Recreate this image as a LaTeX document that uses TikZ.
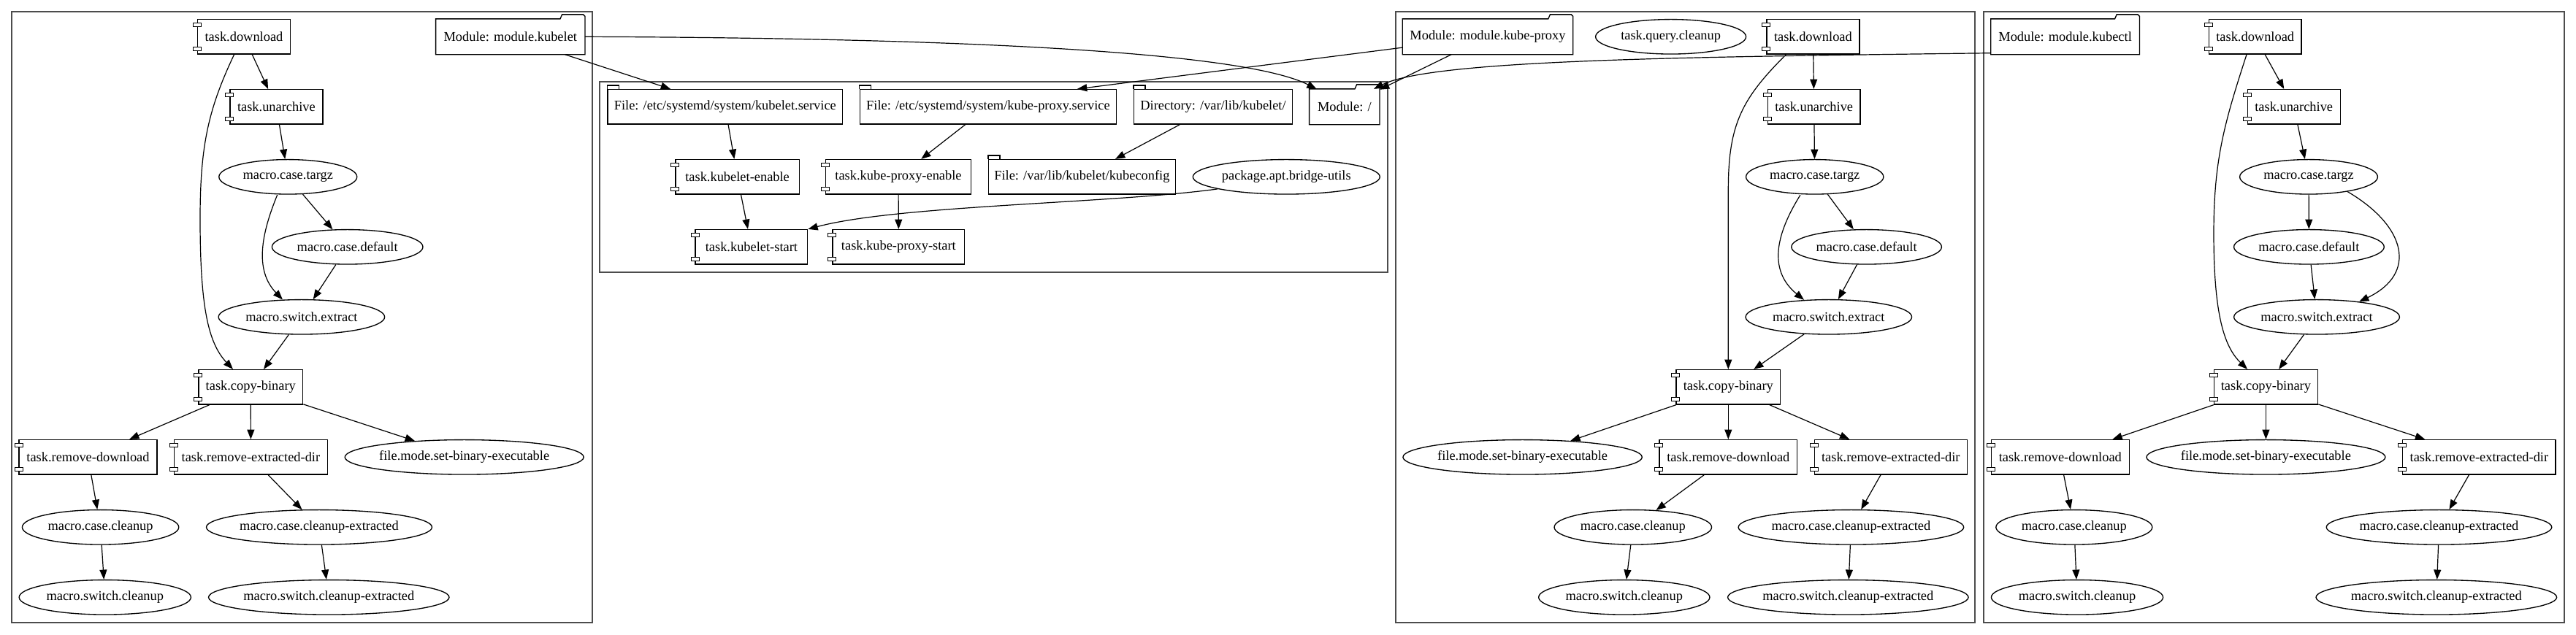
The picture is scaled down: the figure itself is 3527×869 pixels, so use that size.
\documentclass[tikz,border=0pt]{standalone}
\usepackage{fontspec}
\setmainfont{Liberation Serif}
\usetikzlibrary{shapes.geometric,arrows.meta,calc}
\newcommand\nodetxt[1]{\makebox[0pt]{#1}}
\begin{document}
\begin{tikzpicture}[x=0.75pt,y=-0.75pt,
  base/.style={draw=black, line width=1pt, inner sep=0pt, minimum height=35.6pt, font=\fontsize{13.8}{16}\selectfont},
  comp/.style={base, rectangle},
  tabn/.style={base, rectangle},
  foldn/.style={base, rectangle, draw=none},
  elln/.style={base, ellipse},
  nw/.style={minimum width=#1*0.75pt},
  e/.style={line width=0.9pt, -{Triangle[length=10pt,width=7.5pt]}},
  clus/.style={draw=black!70, line width=1.5pt},
  compsq/.style={draw=black, fill=white, line width=0.6pt},
  nodeline/.style={draw=black, line width=1pt, line join=miter}]
\useasboundingbox (0,0) rectangle (3527,869);
% clusters
\draw[clus] (15.7,15.7) rectangle (810.7,852.7);
\draw[clus] (821.4,111.7) rectangle (1900,373.3);
\draw[clus] (1911,15.7) rectangle (2704.4,852.7);
\draw[clus] (2715.8,15.7) rectangle (3510.6,852.7);

% ---- cluster kubelet
\node[comp,nw=126.5] (adl) at (334,50.3) {\nodetxt{task.download}};
\node[foldn,nw=203] (amod) at (698.8,50.3) {\nodetxt{Module: module.kubelet}};
\node[comp,nw=127] (aua) at (378.4,146.3) {\nodetxt{task.unarchive}};
\node[elln,nw=189] (atg) at (394.3,242.3) {\nodetxt{macro.case.targz}};
\node[elln,nw=206.6] (acd) at (475.7,338.3) {\nodetxt{macro.case.default}};
\node[elln,nw=227.5] (ase) at (412.9,434.3) {\nodetxt{macro.switch.extract}};
\node[comp,nw=142.8] (acb) at (343.3,530.3) {\nodetxt{task.copy-binary}};
\node[comp,nw=188.8] (ard) at (120.5,626.3) {\nodetxt{task.remove-download}};
\node[comp,nw=209.7] (are) at (343.4,626.3) {\nodetxt{task.remove-extracted-dir}};
\node[elln,nw=327] (afm) at (635.7,626.3) {\nodetxt{file.mode.set-binary-executable}};
\node[elln,nw=214.4] (acc) at (137.6,722.3) {\nodetxt{macro.case.cleanup}};
\node[elln,nw=309] (acx) at (437,722.3) {\nodetxt{macro.case.cleanup-extracted}};
\node[elln,nw=235.3] (asc) at (143.8,818.3) {\nodetxt{macro.switch.cleanup}};
\node[elln,nw=329.5] (asx) at (450.3,818.3) {\nodetxt{macro.switch.cleanup-extracted}};

% ---- middle cluster
\node[tabn,nw=321.4] (mks) at (992.8,146.3) {\nodetxt{File: /etc/systemd/system/kubelet.service}};
\node[tabn,nw=351.4] (mps) at (1352.9,146.3) {\nodetxt{File: /etc/systemd/system/kube-proxy.service}};
\node[tabn,nw=216.4] (mdir) at (1661,146.3) {\nodetxt{Directory: /var/lib/kubelet/}};
\node[foldn,nw=95] (mroot) at (1840.8,146.3) {\nodetxt{Module: /}};
\node[comp,nw=169.3] (mke) at (1009.6,242.3) {\nodetxt{task.kubelet-enable}};
\node[comp,nw=198.6] (mpe) at (1230,242.3) {\nodetxt{task.kube-proxy-enable}};
\node[tabn,nw=255.7] (mkc) at (1481.4,242.3) {\nodetxt{File: /var/lib/kubelet/kubeconfig}};
\node[elln,nw=256] (mbu) at (1761.3,242.3) {\nodetxt{package.apt.bridge-utils}};
\node[comp,nw=153.6] (mkst) at (1028.9,338.3) {\nodetxt{task.kubelet-start}};
\node[comp,nw=180.7] (mpst) at (1230.4,338.3) {\nodetxt{task.kube-proxy-start}};

% ---- cluster kube-proxy
\node[foldn,nw=232.2] (pmod) at (2037,50.3) {\nodetxt{Module: module.kube-proxy}};
\node[elln,nw=206] (pqc) at (2287.6,50.3) {\nodetxt{task.query.cleanup}};
\node[comp,nw=127] (pdl) at (2482.4,50.3) {\nodetxt{task.download}};
\node[comp,nw=126.6] (pua) at (2483.7,146.3) {\nodetxt{task.unarchive}};
\node[elln,nw=188.3] (ptg) at (2484.7,242.3) {\nodetxt{macro.case.targz}};
\node[elln,nw=205.6] (pcd) at (2555.6,338.3) {\nodetxt{macro.case.default}};
\node[elln,nw=227.5] (pse) at (2503.8,434.3) {\nodetxt{macro.switch.extract}};
\node[comp,nw=142.8] (pcb) at (2366.3,530.3) {\nodetxt{task.copy-binary}};
\node[elln,nw=327.4] (pfm) at (2084.6,626.3) {\nodetxt{file.mode.set-binary-executable}};
\node[comp,nw=188.8] (prd) at (2366.3,626.3) {\nodetxt{task.remove-download}};
\node[comp,nw=209.2] (pre) at (2588.8,626.3) {\nodetxt{task.remove-extracted-dir}};
\node[elln,nw=215.5] (pcc) at (2235.8,722.3) {\nodetxt{macro.case.cleanup}};
\node[elln,nw=308.6] (pcx) at (2534.4,722.3) {\nodetxt{macro.case.cleanup-extracted}};
\node[elln,nw=234.3] (psc) at (2223.8,818.3) {\nodetxt{macro.switch.cleanup}};
\node[elln,nw=329.5] (psx) at (2530.3,818.3) {\nodetxt{macro.switch.cleanup-extracted}};

% ---- cluster kubectl
\node[foldn,nw=202.5] (kmod) at (2827.6,50.3) {\nodetxt{Module: module.kubectl}};
\node[comp,nw=126.6] (kdl) at (3087.7,50.3) {\nodetxt{task.download}};
\node[comp,nw=127] (kua) at (3140.7,146.3) {\nodetxt{task.unarchive}};
\node[elln,nw=188.8] (ktg) at (3161,242.3) {\nodetxt{macro.case.targz}};
\node[elln,nw=205.7] (kcd) at (3161.4,338.3) {\nodetxt{macro.case.default}};
\node[elln,nw=226.8] (kse) at (3172,434.3) {\nodetxt{macro.switch.extract}};
\node[comp,nw=142.4] (kcb) at (3102.4,530.3) {\nodetxt{task.copy-binary}};
\node[comp,nw=188.8] (krd) at (2820.8,626.3) {\nodetxt{task.remove-download}};
\node[elln,nw=327] (kfm) at (3102.4,626.3) {\nodetxt{file.mode.set-binary-executable}};
\node[comp,nw=209.4] (kre) at (3394.4,626.3) {\nodetxt{task.remove-extracted-dir}};
\node[elln,nw=214] (kcc) at (2839.8,722.3) {\nodetxt{macro.case.cleanup}};
\node[elln,nw=308.6] (kcx) at (3339.5,722.3) {\nodetxt{macro.case.cleanup-extracted}};
\node[elln,nw=235.2] (ksc) at (2844,818.3) {\nodetxt{macro.switch.cleanup}};
\node[elln,nw=329.6] (ksx) at (3335.8,818.3) {\nodetxt{macro.switch.cleanup-extracted}};

% ---- shape decorations
\foreach \n in {adl,aua,acb,ard,are,mke,mpe,mkst,mpst,pdl,pua,pcb,prd,pre,kdl,kua,kcb,krd,kre}{
  \draw[compsq] ($(\n.north west)+(-5.5,5.7)$) rectangle ++(11,5);
  \draw[compsq] ($(\n.south west)+(-5.5,-10.7)$) rectangle ++(11,5);
}
\foreach \n in {mks,mps,mdir,mkc}{
  \draw[nodeline] (\n.north west) -- ++(0,-5) -- ++(16,0) -- ++(0,5);
}
\foreach \n in {amod,mroot,pmod,kmod}{
  \draw[nodeline] (\n.south west) -- (\n.north west) -- ($(\n.north east)+(-34,0)$) -- ++(2.6,-6) -- ($(\n.north east)+(-2.5,-6)$) -- ($(\n.north east)+(0,-3.5)$) -- (\n.south east) -- cycle;
}

% ---- edges kubelet cluster
\draw[e] (adl) -- (aua);
\draw[e] ($(adl.south)+(-13.4,0)$) .. controls (285,150) and (274,200) .. (274,300) .. controls (274,420) and (285,470) .. ($(acb.north)+(-24.3,0)$);
\draw[e] (aua) -- (atg);
\draw[e] (atg) -- (acd);
\draw[e] ($(atg.south)+(-14.6,0.3)$) .. controls (358,320) and (348,370) .. ($(ase.north)+(-25.9,0.6)$);
\draw[e] (acd) -- (ase);
\draw[e] (ase) -- (acb);
\draw[e] (acb) -- (ard);
\draw[e] (acb) -- (are);
\draw[e] (acb) -- (afm);
\draw[e] (ard) -- (acc);
\draw[e] (are) -- (acx);
\draw[e] (acc) -- (asc);
\draw[e] (acx) -- (asx);

% ---- edges middle cluster
\draw[e] (mks) -- (mke);
\draw[e] (mps) -- (mpe);
\draw[e] (mdir) -- (mkc);
\draw[e] (mke) -- (mkst);
\draw[e] (mpe) -- (mpst);
\draw[e] (mbu.190) .. controls (1520,279) and (1230,281) .. (mkst.north east);

% ---- cross-cluster edges
\draw[e] (amod) -- (mks);
\draw[e] (amod.east) .. controls (1300,52) and (1700,70) .. ($(mroot.north west)+(10,0)$);
\draw[e] (pmod) -- ($(mps.north)+(122,0)$);
\draw[e] (pmod) -- (mroot);
\draw[e] ($(kmod.south west)+(0,-2)$) .. controls (2300,78) and (1960,82) .. ($(mroot.north east)+(-8,0)$);

% ---- edges kube-proxy cluster
\draw[e] (pdl) -- (pua);
\draw[e] ($(pdl.south)+(-37,0)$) .. controls (2385,135) and (2366.3,170) .. (2366.3,260) -- (pcb.north);
\draw[e] (pua) -- (ptg);
\draw[e] (ptg) -- (pcd);
\draw[e] ($(ptg.south)+(-19.8,0.5)$) .. controls (2432,320) and (2420,370) .. ($(pse.north)+(-33.8,1)$);
\draw[e] (pcd) -- (pse);
\draw[e] (pse) -- (pcb);
\draw[e] (pcb) -- (pfm);
\draw[e] (pcb) -- (prd);
\draw[e] (pcb) -- (pre);
\draw[e] (prd) -- (pcc);
\draw[e] (pre) -- (pcx);
\draw[e] (pcc) -- (psc);
\draw[e] (pcx) -- (psx);

% ---- edges kubectl cluster
\draw[e] (kdl) -- (kua);
\draw[e] ($(kdl.south)+(-11.7,0)$) .. controls (3045,170) and (3031,220) .. (3031,320) .. controls (3031,430) and (3045,475) .. ($(kcb.north)+(-25.3,0)$);
\draw[e] (kua) -- (ktg);
\draw[e] (ktg) -- (kcd);
\draw[e] (kcd) -- (kse);
\draw[e] ($(ktg.south)+(53.2,-4.1)$) .. controls (3295,310) and (3310,375) .. ($(kse.north)+(58,3.4)$);
\draw[e] (kse) -- (kcb);
\draw[e] (kcb) -- (krd);
\draw[e] (kcb) -- (kfm);
\draw[e] (kcb) -- (kre);
\draw[e] (krd) -- (kcc);
\draw[e] (kre) -- (kcx);
\draw[e] (kcc) -- (ksc);
\draw[e] (kcx) -- (ksx);
\end{tikzpicture}
\end{document}
